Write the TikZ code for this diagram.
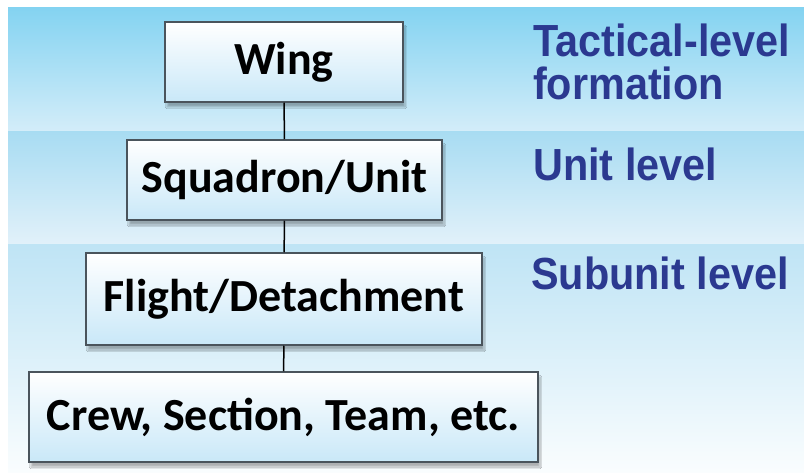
\documentclass[tikz,border=0pt]{standalone}
\usepackage{fontspec}
\usetikzlibrary{shadows.blur}

\newfontfamily\boxfont{Carlito}
\newfontfamily\levelfont[FakeStretch=0.92]{Liberation Sans}

\definecolor{bandAtop}{HTML}{84D3F1}
\definecolor{bandAbot}{HTML}{D4EDF9}
\definecolor{bandBtop}{HTML}{A8DCF2}
\definecolor{bandBbot}{HTML}{E2F1FA}
\definecolor{bandCtop}{HTML}{BFE4F5}
\definecolor{bandCbot}{HTML}{FAFDFE}
\definecolor{boxblue}{HTML}{C9E8F8}
\definecolor{boxline}{HTML}{4A545C}
\definecolor{labelblue}{HTML}{2B3990}

\tikzset{
  levelbox/.style={draw=boxline, line width=1.5pt, top color=white, bottom color=boxblue,
    inner sep=0pt, font=\boxfont\bfseries\fontsize{46}{50}\selectfont,
    blur shadow={shadow xshift=2pt, shadow yshift=-5pt, shadow opacity=30, shadow blur steps=8}},
  levellabel/.style={anchor=base west, inner sep=0pt, text=labelblue, text depth=0pt,
    font=\levelfont\bfseries\fontsize{45}{50}\selectfont},
  link/.style={line width=1.5pt, black}
}

\begin{document}
\begin{tikzpicture}[x=1pt,y=-1pt]
  \useasboundingbox (0,0) rectangle (804,473);
  % background bands, one per level
  \shade[top color=bandAtop, bottom color=bandAbot] (8,8) rectangle (804,132);
  \shade[top color=bandBtop, bottom color=bandBbot] (8,132) rectangle (804,245);
  \shade[top color=bandCtop, bottom color=bandCbot] (8,245) rectangle (804,473);

  % hierarchy boxes
  \node[levelbox, minimum width=238pt, minimum height=80pt] (wing) at (284,62) {Wing};
  \node[levelbox, minimum width=315pt, minimum height=80pt] (squadron) at (284.5,180) {Squadron/Unit};
  \node[levelbox, minimum width=396pt, minimum height=92pt] (flight) at (284,299) {Flight/Detachment};
  \node[levelbox, minimum width=509pt, minimum height=90pt] (crew) at (283.5,417) {Crew, Section, Team, etc.};

  \draw[link] (wing) -- (squadron);
  \draw[link] (squadron) -- (flight);
  \draw[link] (flight) -- (crew);

  % level names on the right
  \node[levellabel] (tactical) at (533,57) {Tactical-level};
  \node[levellabel] (formation) at (533,100) {formation};
  \node[levellabel] (unitlvl) at (533,181) {Unit level};
  \node[levellabel] (subunitlvl) at (531,290) {Subunit level};
\end{tikzpicture}
\end{document}
